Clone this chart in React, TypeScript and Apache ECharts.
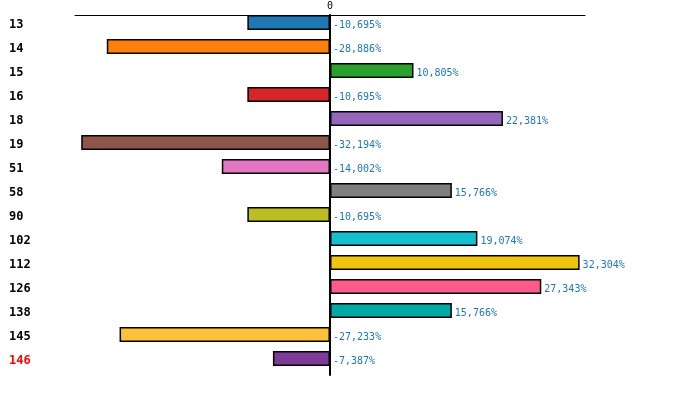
import React, { useEffect, useRef } from "react";
import * as echarts from "echarts";

const categories = ["13", "14", "15", "16", "18", "19", "51", "58", "90", "102", "112", "126", "138", "145", "146"];
const values = [-10.695, -28.886, 10.805, -10.695, 22.381, -32.194, -14.002, 15.766, -10.695, 19.074, 32.304, 27.343, 15.766, -27.233, -7.387];
const colors = ["#1f77b4", "#ff7f0e", "#2ca02c", "#d62728", "#9467bd", "#8c564b", "#e377c2", "#7f7f7f", "#bcbd22", "#17becf", "#f1c40f", "#ff5a8c", "#00a9a5", "#ffc13b", "#7b3b96"];
const highlighted = ["146"];

export default function App() {
  const ref = useRef<HTMLDivElement>(null);
  useEffect(() => {
    if (!ref.current) return;
    const chart = echarts.init(ref.current, undefined, { renderer: "svg" });
    const mono = "DejaVu Sans Mono";
    const catLabel = {
      align: "left",
      verticalAlign: "bottom",
      lineHeight: 6,
      fontFamily: mono,
      fontWeight: "bold",
      fontSize: 12,
    };
    chart.setOption({
      animation: false,
      grid: { left: 75, right: 115, top: 15, bottom: 30, containLabel: false, outerBoundsMode: "none" },
      xAxis: {
        type: "value",
        position: "top",
        min: -33,
        max: 33,
        interval: 33,
        axisLine: { show: true, lineStyle: { color: "#000", width: 1 } },
        axisTick: { show: false },
        splitLine: { show: false },
        axisLabel: {
          formatter: (v: number) => (v === 0 ? "0" : ""),
          fontFamily: mono,
          fontSize: 10,
          color: "#000",
          margin: 5,
        },
      },
      yAxis: {
        type: "category",
        inverse: true,
        data: categories.map((c) =>
          highlighted.includes(c) ? { value: c, textStyle: { ...catLabel, color: "#ff0000" } } : c
        ),
        axisLine: { show: true, onZero: true, lineStyle: { color: "#000", width: 2 } },
        axisTick: { show: false },
        axisLabel: { ...catLabel, margin: 66, color: "#000" },
      },
      series: [
        {
          type: "bar",
          barWidth: 15,
          barGap: "-40%",
          data: values.map((v, i) => ({
            value: v,
            itemStyle: { color: colors[i], borderColor: "#000", borderWidth: 1.5 },
          })),
          label: {
            show: true,
            position: "right",
            distance: 3,
            offset: [0, 1.5],
            fontFamily: mono,
            fontSize: 10,
            color: "#1f77b4",
            formatter: (p: any) => p.value.toFixed(3).replace(".", ",") + "%",
          },
        },
        {
          type: "bar",
          barWidth: 15,
          data: values.map(() => "-"),
        },
      ],
    });
    return () => chart.dispose();
  }, []);
  return <div ref={ref} style={{ position: "fixed", left: 0, top: 0, width: 700, height: 405 }} />;
}
